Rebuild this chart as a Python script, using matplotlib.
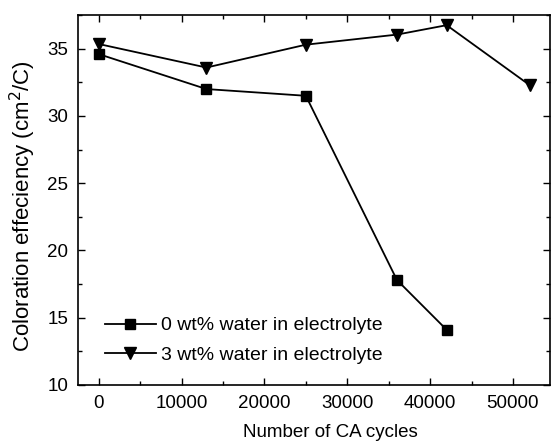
import matplotlib
matplotlib.use("Agg")
import matplotlib.pyplot as plt
from matplotlib.ticker import MultipleLocator

plt.rcParams['font.family'] = ['Liberation Sans', 'DejaVu Sans']

cycles_0 = [0, 13000, 25000, 36000, 42000]
eff_0 = [34.6, 32.0, 31.5, 17.8, 14.1]
cycles_3 = [0, 13000, 25000, 36000, 42000, 52000]
eff_3 = [35.35, 33.6, 35.3, 36.05, 36.75, 32.3]
label_0 = "0 wt% water in electrolyte"
label_3 = "3 wt% water in electrolyte"
xticks = [0, 10000, 20000, 30000, 40000, 50000]
yticks = [10, 15, 20, 25, 30, 35]

fig = plt.figure(figsize=(5.51, 4.44), dpi=100)
ax = fig.add_axes([0.1416, 0.133, 0.857, 0.833])

ax.plot(cycles_0, eff_0, color='black', lw=1.3, marker='s', ms=6.5, label=label_0)
ax.plot(cycles_3, eff_3, color='black', lw=1.3, marker='v', ms=8, label=label_3)

ax.set_xlim(-2500, 54500)
ax.set_ylim(10, 37.5)
ax.set_xticks(xticks)
ax.set_yticks(yticks)
ax.xaxis.set_minor_locator(MultipleLocator(5000))
ax.yaxis.set_minor_locator(MultipleLocator(2.5))
ax.tick_params(which='both', direction='in', top=True, right=True, labelsize=13.5, width=1)
ax.tick_params(which='major', length=5, pad=7)
ax.tick_params(which='minor', length=3)
for s in ax.spines.values():
    s.set_linewidth(1.2)

ax.set_xlabel("Number of CA cycles", fontsize=13.5)
ax.xaxis.set_label_coords(0.535, -0.105)
ax.set_ylabel("Coloration effeciency (cm$^2$/C)", fontsize=16)
ax.yaxis.set_label_coords(-0.085, 0.485)

ax.legend(loc='lower left', bbox_to_anchor=(0.02, 0.01), frameon=False, fontsize=14,
          numpoints=1, handlelength=2.6, handletextpad=0.3, labelspacing=0.6)

fig.savefig("out.png", dpi=100)
